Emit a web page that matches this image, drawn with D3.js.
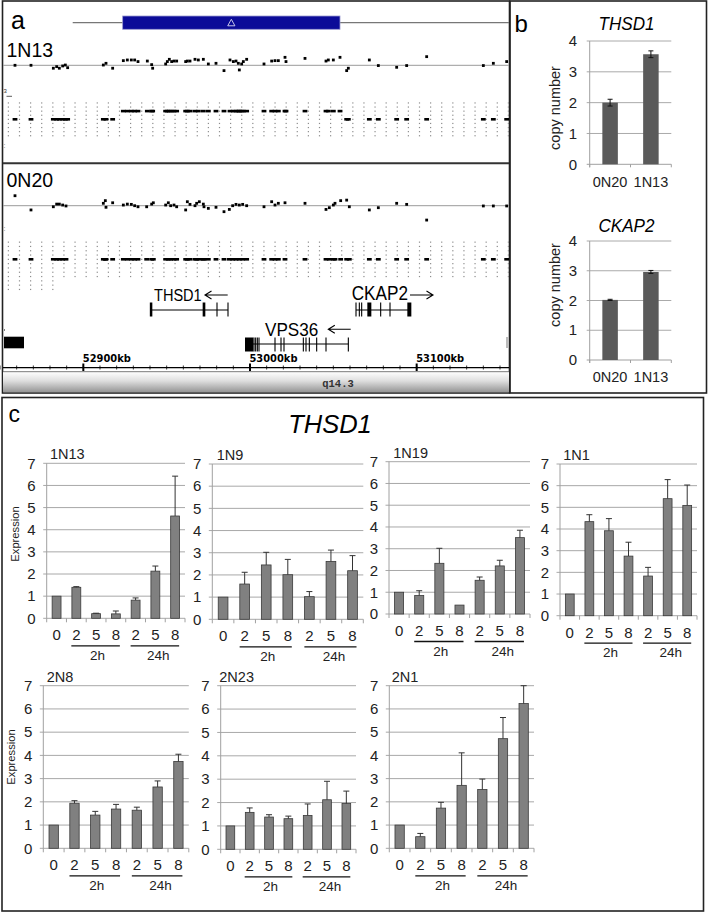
<!DOCTYPE html>
<html><head><meta charset="utf-8">
<script src="https://cdn.jsdelivr.net/npm/d3@7"></script>
<style>body{margin:0;background:#fff} svg{display:block;font-family:"Liberation Sans",Arial,sans-serif}</style>
</head><body><svg id="c" width="708" height="912"></svg>
<script>
// ---------------- DATA ----------------
// panel a: genome positions (kb) of array probes, log2 ratios and called copy number
const n13Kb = [52859,52868.6,52882,52884,52885.6,52887.6,52889.2,52890.6,52912,52913.6,52917.6,52924,52926.4,52928.8,52930.8,52932.8,52938.4,52941,52941.6,52949.4,52950.4,52951.6,52953,52954.4,52956,52961.4,52962.4,52964,52967,52969,52972,52975,52979.6,52984.4,52988,52990,52991.6,52993,52993.6,52995,52996,52998,53008.4,53013,53015,53017,53021,53021.6,53033,53045.6,53047,53050,53054,53058,53059,53071.6,53077,53088,53094,53106,53140,53146,53154];
const n13Ratio = [0,0,-0.22,-0.1,-0.22,-0.05,0.02,-0.18,0.02,0.15,-0.22,0.35,0.4,0.4,0.4,0.28,0.32,0.05,-0.22,0.1,0.28,0.45,0.28,0.32,0.32,0.28,0.32,0.32,0.45,0.4,0.45,0.1,0.15,-0.4,0.4,0.28,0.32,0.15,-0.35,0.1,0.28,0.45,0.1,0.32,0.35,0.35,0.6,0.28,0.52,0.32,0.4,0.4,0.6,-0.4,-0.22,0.4,-0.02,-0.15,-0.02,0.65,-0.02,0.15,0.28];
const n13Cn = [2,2,2,2,2,2,2,2,2,2,2,3,3,3,3,3,3,3,3,3,3,3,3,3,3,3,3,3,3,3,3,3,3,3,3,3,3,3,3,3,3,3,3,3,3,3,3,3,3,3,3,3,3,2,2,2,2,2,2,2,2,2,2];
const n20Kb = [52859,52868.6,52882,52884,52885.6,52887.6,52889.6,52912,52913.2,52913.6,52917.6,52924,52926.4,52928.8,52930.8,52932.8,52938,52941,52942,52949.4,52951,52952.4,52954.4,52956,52961.4,52962.4,52964,52967,52968,52969.6,52972,52972.4,52975,52979.6,52984.4,52987.6,52989.6,52991.6,52993.6,52995.6,52998,53008.4,53013,53015,53017,53021,53033,53045.6,53047.6,53050,53051,53054.4,53058,53059.6,53071.6,53077,53088,53094,53106,53140,53146,53154];
const n20Ratio = [0.75,-0.32,-0.08,0.12,0.12,0.05,-0.02,0.18,0.38,-0.12,0.22,0.05,0.12,0.1,0,-0.08,-0.08,0.12,0.22,0.05,0.22,0,0.05,-0.08,-0.32,0.3,0.1,0,0.18,0.3,0.12,-0.08,-0.2,-0.12,-0.45,-0.28,0,0.1,0.05,0.1,0,-0.08,0.3,0.05,0.18,0.22,0.18,-0.28,-0.15,0.05,0.18,0.38,0.42,-0.08,-0.32,-0.15,0.18,0.1,-1.08,-0.02,-0.02,-0.02];
const n20Cn = [2,2,2,2,2,2,2,2,2,2,2,2,2,2,2,2,2,2,2,2,2,2,2,2,2,2,2,2,2,2,2,2,2,2,2,2,2,2,2,2,2,2,2,2,2,2,2,2,2,2,2,2,2,2,2,2,2,2,2,2,2,2];
const gainRegion = [52923.6, 53054];
const axisKb = [52900, 53000, 53100];
const geneNames = ["THSD1", "CKAP2", "VPS36"];
const geneSpan = [[52940.6, 52986.8], [53063.6, 53095.6], [52997, 53059]];
const geneStrand = [-1, 1, -1];
const geneExons = [
  [[52939.9,52941.4],[52971.6,52973.2],[52980.2,52980.2],[52986.8,52986.8]],
  [[53063.6,53063.6],[53065.6,53065.6],[53067,53067],[53070.4,53072.8],[53078.4,53078.4],[53084,53084],[53094.4,53096.8]],
  [[52997,53002],[53002.4,53002.4],[53003.4,53003.4],[53004.4,53004.4],[53005.4,53005.4],[53015,53015],[53018.6,53018.6],[53020.4,53020.4],[53032,53032],[53033.6,53033.6],[53035.6,53035.6],[53040,53040],[53045.6,53045.6],[53059,53059]]
];
const otherFeature = [52852.4, 52864.4];
const band = "q14.3";

// panel b: copy number by qPCR
const cnSamples = ["0N20", "1N13"];
const cnTHSD1 = [2.0, 3.57], cnTHSD1Err = [0.11, 0.11];
const cnCKAP2 = [2.02, 2.96], cnCKAP2Err = [0.02, 0.05];
const cnTicks = [0, 1, 2, 3, 4];

// panel c: THSD1 expression
const timeLabels = ["0", "2", "5", "8", "2", "5", "8"];
const groupLabels = ["2h", "24h"];
const exprTicks = [0, 1, 2, 3, 4, 5, 6, 7];
const clones = ["1N13", "1N9", "1N19", "1N1", "2N8", "2N23", "2N1"];
const expr1N13 = [1.0, 1.40, 0.21, 0.20, 0.82, 2.13, 4.62], err1N13 = [0, 0.03, 0.02, 0.13, 0.10, 0.23, 1.80];
const expr1N9  = [1.0, 1.59, 2.45, 2.01, 1.02, 2.61, 2.19], err1N9  = [0, 0.53, 0.57, 0.69, 0.23, 0.51, 0.68];
const expr1N19 = [1.0, 0.85, 2.33, 0.41, 1.55, 2.21, 3.51], err1N19 = [0, 0.22, 0.69, 0, 0.15, 0.26, 0.34];
const expr1N1  = [1.0, 4.34, 3.92, 2.75, 1.83, 5.40, 5.09], err1N1  = [0, 0.32, 0.56, 0.64, 0.40, 0.88, 0.94];
const expr2N8  = [1.0, 1.94, 1.43, 1.69, 1.64, 2.64, 3.74], err2N8  = [0, 0.11, 0.16, 0.20, 0.13, 0.26, 0.31];
const expr2N23 = [1.0, 1.58, 1.38, 1.31, 1.45, 2.12, 1.96], err2N23 = [0, 0.19, 0.10, 0.11, 0.49, 0.79, 0.53];
const expr2N1  = [1.0, 0.50, 1.73, 2.71, 2.53, 4.72, 6.23], err2N1  = [0, 0.14, 0.25, 1.40, 0.45, 0.91, 0.80];

// ---------------- DRAW ----------------
const svg = d3.select("#c");

// panel frames
svg.append("rect").attr("x",2.5).attr("y",1).attr("width",507).attr("height",392).attr("fill","none").attr("stroke","#222").attr("stroke-width",1.6);
svg.append("rect").attr("x",510).attr("y",1).attr("width",196.5).attr("height",392).attr("fill","none").attr("stroke","#222").attr("stroke-width",1.6);
svg.append("rect").attr("x",2).attr("y",397.5).attr("width",701.5).attr("height",513.5).attr("fill","none").attr("stroke","#222").attr("stroke-width",1.6);

// ---- panel a ----
const kb = d3.scaleLinear().domain([52900, 53100]).range([83.33, 416.67]);
const A = svg.append("g");
A.append("text").attr("x",11).attr("y",28.5).attr("font-size",25).text("a");
// header
A.append("line").attr("x1",72.7).attr("x2",509).attr("y1",22.7).attr("y2",22.7).attr("stroke","#777").attr("stroke-width",1.3);
A.append("rect").attr("x",kb(gainRegion[0])).attr("y",16).attr("width",kb(gainRegion[1])-kb(gainRegion[0])).attr("height",13.3)
  .attr("fill","#0b0b98").attr("stroke","#9a9ad0").attr("stroke-width",0.8);
const tc = kb((gainRegion[0]+gainRegion[1])/2);
A.append("path").attr("d",`M${tc},19.3 L${tc+3.6},25.8 L${tc-3.6},25.8 Z`).attr("fill","none").attr("stroke","#d8d8f0").attr("stroke-width",0.9);

const gridCols = d3.range(0, 46).map(i => 52855 + i * 20 / 3);
function track(name, kbs, ratios, cns, baseY, rowY, rowStep, labelY, extraRows) {
  const g = A.append("g");
  g.append("text").attr("x",6.5).attr("y",labelY).attr("font-size",19.5).text(name);
  g.append("line").attr("x1",3).attr("x2",509).attr("y1",baseY).attr("y2",baseY).attr("stroke","#9a9a9a").attr("stroke-width",1);
  const ry = d3.scaleLinear().domain([-1, 1]).range([baseY + 13.3, baseY - 13.3]);
  g.selectAll("rect.dot").data(kbs).join("rect").attr("class","dot")
    .attr("x",(d)=>kb(d)-1.4).attr("y",(d,i)=>ry(ratios[i])-1.4).attr("width",2.8).attr("height",2.8).attr("fill","#000");
  gridCols.forEach((c, ci) => {
    const nr = ci < extraRows.cols ? 9 + extraRows.n : 9;
    d3.range(0, nr).forEach(k => {
      g.append("rect").attr("x",kb(c)-0.55).attr("y",rowY + (k-4)*rowStep - 0.55).attr("width",1.2).attr("height",1.2).attr("fill","#8c8c8c");
    });
  });
  const cy = d3.scaleLinear().domain([2, 3]).range([rowY, rowY - 2*rowStep]);
  g.selectAll("rect.call").data(kbs).join("rect").attr("class","call")
    .attr("x",(d)=>kb(d)-2.4).attr("y",(d,i)=>cy(cns[i])-1.3).attr("width",4.8).attr("height",2.6).attr("fill","#000");
}
track("1N13", n13Kb, n13Ratio, n13Cn, 65.3, 119.3, 4.1, 57.3, {cols:0, n:0});
A.append("text").attr("x",3.5).attr("y",93).attr("font-size",6).attr("fill","#333").text("3");
A.append("line").attr("x1",6.5).attr("x2",12).attr("y1",96.3).attr("y2",96.3).attr("stroke","#333").attr("stroke-width",0.8);
A.append("text").attr("x",3.5).attr("y",148).attr("font-size",7).attr("fill","#666").text(":");
A.append("line").attr("x1",3).attr("x2",509).attr("y1",163.3).attr("y2",163.3).attr("stroke","#333").attr("stroke-width",2);
track("0N20", n20Kb, n20Ratio, n20Cn, 205.7, 259.3, 4.3, 187.3, {cols:5, n:3});
A.append("text").attr("x",3.5).attr("y",231).attr("font-size",7).attr("fill","#666").text(":");

// genes
const gy = [310, 310, 344];
const exH = [[302.5, 316.5], [302.5, 316.5], [337.5, 351.5]];
const lab = [
  {x:154, y:300.7, fs:15.8, len:47.7, ax1:227.7, ax2:205, ay:295},
  {x:351.7, y:299.5, fs:19.5, len:56.3, ax1:410, ax2:433, ay:295},
  {x:265, y:335.7, fs:18.8, len:53.3, ax1:350.7, ax2:328.3, ay:329.3}
];
geneNames.forEach((gname, gi) => {
  const g = A.append("g");
  g.append("line").attr("x1",kb(geneSpan[gi][0])).attr("x2",kb(geneSpan[gi][1])).attr("y1",gy[gi]).attr("y2",gy[gi]).attr("stroke","#000").attr("stroke-width",1.1);
  geneExons[gi].forEach(e => {
    const w = Math.max(1.1, kb(e[1]) - kb(e[0]));
    g.append("rect").attr("x",kb(e[0]) - (w === 1.1 ? 0.55 : 0)).attr("y",exH[gi][0]).attr("width",w).attr("height",exH[gi][1]-exH[gi][0]).attr("fill","#000");
  });
  const L = lab[gi];
  g.append("text").attr("x",L.x).attr("y",L.y).attr("font-size",L.fs).attr("textLength",L.len).attr("lengthAdjust","spacingAndGlyphs").text(gname);
  const dir = geneStrand[gi];
  const hx = L.ax2, hs = dir < 0 ? 6.5 : -6.5;
  g.append("path").attr("d",`M${L.ax1},${L.ay} L${hx},${L.ay} M${hx+hs},${L.ay-4} L${hx},${L.ay} L${hx+hs},${L.ay+4}`)
    .attr("fill","none").attr("stroke","#000").attr("stroke-width",1.1);
});
A.append("rect").attr("x",kb(otherFeature[0])).attr("y",336.7).attr("width",kb(otherFeature[1])-kb(otherFeature[0])).attr("height",11.6).attr("fill","#000");
A.append("rect").attr("x",4).attr("y",329.5).attr("width",1).attr("height",1).attr("fill","#000");
A.append("line").attr("x1",507).attr("x2",507).attr("y1",337).attr("y2",348).attr("stroke","#555").attr("stroke-width",0.8);

// coordinate axis
A.append("line").attr("x1",3).attr("x2",509).attr("y1",367.7).attr("y2",367.7).attr("stroke","#000").attr("stroke-width",1.2);
const minor = d3.range(52850, 53160, 10);
A.selectAll("line.mt").data(minor).join("line").attr("class","mt")
  .attr("x1",d=>kb(d)).attr("x2",d=>kb(d)).attr("y1",365.5).attr("y2",369.5).attr("stroke","#000").attr("stroke-width",0.8);
A.selectAll("line.Mt").data(axisKb).join("line").attr("class","Mt")
  .attr("x1",d=>kb(d)).attr("x2",d=>kb(d)).attr("y1",363.5).attr("y2",371).attr("stroke","#000").attr("stroke-width",2);
A.selectAll("text.ax").data(axisKb).join("text").attr("class","ax")
  .attr("x",d=>kb(d)-0.5).attr("y",362.3).attr("font-family","DejaVu Sans").attr("font-weight","bold").attr("font-size",11.3)
  .attr("textLength",48).attr("lengthAdjust","spacingAndGlyphs").text(d=>d+"kb");
// ideogram band
const grad = svg.append("defs").append("linearGradient").attr("id","ideo").attr("x1",0).attr("x2",0).attr("y1",0).attr("y2",1);
grad.append("stop").attr("offset","0%").attr("stop-color","#ffffff");
grad.append("stop").attr("offset","45%").attr("stop-color","#dedede");
grad.append("stop").attr("offset","100%").attr("stop-color","#959595");
A.append("rect").attr("x",3).attr("y",371.7).attr("width",506).attr("height",20.5).attr("fill","url(#ideo)");
A.append("line").attr("x1",3).attr("x2",509).attr("y1",371.7).attr("y2",371.7).attr("stroke","#555").attr("stroke-width",0.8);
A.append("text").attr("x",338).attr("y",386.5).attr("text-anchor","middle").attr("font-family","Liberation Mono, monospace").attr("font-weight","bold").attr("font-size",10.5).attr("fill","#333").text(band);

// ---- panel b ----
const B = svg.append("g");
B.append("text").attr("x",514.5).attr("y",31.5).attr("font-size",24).text("b");
function cnChart(vals, errs, title, yTop, yBot, titleY, xlabY, ylabY) {
  const x0 = 589.7, x1 = 671.3;
  const y = d3.scaleLinear().domain([0, 4]).range([yBot, yTop]);
  const x = d3.scaleBand().domain(cnSamples).range([x0, x1]).paddingInner(0.62).paddingOuter(0.31);
  B.append("text").attr("x",(x0+x1)/2 - 4).attr("y",titleY).attr("text-anchor","middle").attr("font-size",18.5).attr("font-style","italic")
    .attr("textLength",56).attr("lengthAdjust","spacingAndGlyphs").text(title);
  B.selectAll(null).data(cnTicks).join("line").attr("x1",x0-3).attr("x2",x1).attr("y1",d=>y(d)).attr("y2",d=>y(d))
    .attr("stroke",d=>d===0?"#a0a0a0":"#aaaaaa").attr("stroke-width",1);
  B.append("line").attr("x1",x0).attr("x2",x0).attr("y1",yTop).attr("y2",yBot+3).attr("stroke","#a0a0a0");
  [x0, (x0+x1)/2, x1].forEach(t => B.append("line").attr("x1",t).attr("x2",t).attr("y1",yBot).attr("y2",yBot+3).attr("stroke","#a0a0a0"));
  B.selectAll(null).data(cnTicks).join("text").attr("x",x0-12.5).attr("y",d=>y(d)+5.2).attr("text-anchor","end").attr("font-size",15).attr("fill","#222").text(d=>d);
  B.selectAll(null).data(cnSamples).join("rect").attr("x",d=>x(d)).attr("y",(d,i)=>y(vals[i])).attr("width",x.bandwidth())
    .attr("height",(d,i)=>yBot-y(vals[i])).attr("fill","#5a5a5a");
  cnSamples.forEach((s, i) => {
    const cx = x(s) + x.bandwidth()/2, t = y(vals[i]+errs[i]), b = y(vals[i]-errs[i]);
    B.append("path").attr("d",`M${cx},${t} L${cx},${b} M${cx-2.5},${t} L${cx+2.5},${t} M${cx-2.5},${b} L${cx+2.5},${b}`).attr("stroke","#111").attr("stroke-width",1).attr("fill","none");
  });
  B.selectAll(null).data(cnSamples).join("text").attr("x",d=>x(d)+x.bandwidth()/2).attr("y",xlabY).attr("text-anchor","middle").attr("font-size",14.5).attr("fill","#222").text(d=>d);
  B.append("text").attr("transform",`translate(559.5,${ylabY}) rotate(-90)`).attr("text-anchor","middle").attr("font-size",14.5).attr("fill","#222").text("copy number");
}
cnChart(cnTHSD1, cnTHSD1Err, "THSD1", 41, 164.3, 30, 186.7, 108);
cnChart(cnCKAP2, cnCKAP2Err, "CKAP2", 241, 360, 231.7, 381.7, 285);

// ---- panel c ----
const C = svg.append("g");
C.append("text").attr("x",8.5).attr("y",421.7).attr("font-size",23).text("c");
C.append("text").attr("x",330).attr("y",433.3).attr("text-anchor","middle").attr("font-size",25.5).attr("font-style","italic").text("THSD1");
const exprVals = [expr1N13, expr1N9, expr1N19, expr1N1, expr2N8, expr2N23, expr2N1];
const exprErrs = [err1N13, err1N9, err1N19, err1N1, err2N8, err2N23, err2N1];
const layout = [
  {x0:46.7, x1:185, yT:463.3, yB:618.3, tx:50},
  {x0:212.3, x1:363.3, yT:464, yB:619.3, tx:216.7},
  {x0:389, x1:530, yT:461.7, yB:614, tx:393.3},
  {x0:560, x1:697, yT:464, yB:615.7, tx:563.3},
  {x0:43.3, x1:188.8, yT:685.7, yB:848.3, tx:46.7},
  {x0:220.7, x1:356, yT:685.7, yB:849.3, tx:219.3},
  {x0:389.3, x1:534, yT:685.7, yB:848.3, tx:391.7}
];
clones.forEach((cl, pi) => {
  const L = layout[pi], vals = exprVals[pi], errs = exprErrs[pi];
  const g = C.append("g");
  const y = d3.scaleLinear().domain([0, 7]).range([L.yB, L.yT]);
  const x = d3.scaleBand().domain(d3.range(timeLabels.length)).range([L.x0, L.x1]).paddingInner(0.55).paddingOuter(0.275);
  const step = x.step();
  g.selectAll(null).data(exprTicks).join("line").attr("x1",L.x0-3.5).attr("x2",L.x1).attr("y1",d=>y(d)).attr("y2",d=>y(d))
    .attr("stroke","#a8a8a8").attr("stroke-width",1);
  g.append("line").attr("x1",L.x0).attr("x2",L.x0).attr("y1",L.yT).attr("y2",L.yB).attr("stroke","#a0a0a0").attr("stroke-width",1);
  g.selectAll(null).data(d3.range(timeLabels.length + 1)).join("line")
    .attr("x1",i=>L.x0+i*step).attr("x2",i=>L.x0+i*step).attr("y1",L.yB).attr("y2",L.yB+4).attr("stroke","#a0a0a0");
  g.selectAll(null).data(exprTicks).join("text").attr("x",L.x0-11).attr("y",d=>y(d)+5.3).attr("text-anchor","end")
    .attr("font-size",15).attr("fill","#222").text(d=>d);
  g.selectAll(null).data(vals).join("rect").attr("x",(d,i)=>x(i)).attr("y",d=>y(d)).attr("width",x.bandwidth())
    .attr("height",d=>L.yB-y(d)).attr("fill","#808080").attr("stroke","#3a3a3a").attr("stroke-width",0.8);
  vals.forEach((v, i) => {
    if (!errs[i]) return;
    const cx = x(i) + x.bandwidth()/2, t = y(Math.min(7, v + errs[i]));
    g.append("path").attr("d",`M${cx},${y(v)} L${cx},${t} M${cx-3},${t} L${cx+3},${t}`).attr("stroke","#333").attr("stroke-width",1).attr("fill","none");
  });
  const cxs = d3.range(timeLabels.length).map(i => x(i) + x.bandwidth()/2);
  g.selectAll(null).data(timeLabels).join("text").attr("x",(d,i)=>cxs[i]).attr("y",L.yB+22).attr("text-anchor","middle")
    .attr("font-size",15).attr("fill","#222").text(d=>d);
  [[1,3],[4,6]].forEach((r, k) => {
    g.append("line").attr("x1",cxs[r[0]]-5).attr("x2",cxs[r[1]]+4).attr("y1",L.yB+27.5).attr("y2",L.yB+27.5).attr("stroke","#111").attr("stroke-width",1.3);
    g.append("text").attr("x",cxs[r[0]+1] + (k ? 3 : 1.5)).attr("y",L.yB+41.5).attr("text-anchor","middle").attr("font-size",13.5).attr("fill","#222").text(groupLabels[k]);
  });
  g.append("text").attr("x",L.tx).attr("y",L.yT-4).attr("font-size",14.5).attr("fill","#222").text(cl);
});
C.append("text").attr("transform","translate(19,534) rotate(-90)").attr("text-anchor","middle").attr("font-size",11.2).attr("fill","#222").text("Expression");
C.append("text").attr("transform","translate(15,757) rotate(-90)").attr("text-anchor","middle").attr("font-size",11.2).attr("fill","#222").text("Expression");
</script></body></html>
